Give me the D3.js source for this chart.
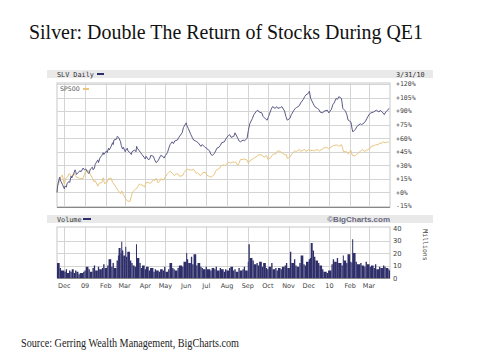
<!DOCTYPE html>
<html><head><meta charset="utf-8">
<script src="https://cdn.jsdelivr.net/npm/d3@7"></script>
<style>body{margin:0;background:#fff}</style></head>
<body><svg id="c" width="480" height="360"></svg>
<script>
const slv = [["2008-11-20",0],["2008-11-21",8],["2008-11-24",17],["2008-11-25",14],["2008-11-26",12],["2008-11-28",9],["2008-12-01",4],["2008-12-02",7],["2008-12-04",6],["2008-12-05",10],["2008-12-08",12],["2008-12-09",11],["2008-12-11",18],["2008-12-12",16],["2008-12-15",21],["2008-12-17",25],["2008-12-18",23],["2008-12-19",20],["2008-12-22",22],["2008-12-24",24],["2008-12-26",23],["2008-12-29",27],["2008-12-31",25],["2009-01-02",26],["2009-01-05",22],["2009-01-07",21],["2009-01-08",24],["2009-01-09",26],["2009-01-12",28],["2009-01-13",25],["2009-01-15",27],["2009-01-16",31],["2009-01-20",36],["2009-01-21",33],["2009-01-23",38],["2009-01-26",41],["2009-01-28",44],["2009-01-29",42],["2009-02-02",46],["2009-02-03",44],["2009-02-05",49],["2009-02-06",47],["2009-02-09",51],["2009-02-11",55],["2009-02-12",53],["2009-02-13",58],["2009-02-17",59],["2009-02-18",62],["2009-02-20",61],["2009-02-23",56],["2009-02-24",52],["2009-02-26",48],["2009-02-27",50],["2009-03-02",45],["2009-03-03",47],["2009-03-05",49],["2009-03-06",46],["2009-03-09",44],["2009-03-11",42],["2009-03-12",45],["2009-03-16",47],["2009-03-18",45],["2009-03-19",51],["2009-03-20",49],["2009-03-23",46],["2009-03-25",44],["2009-03-27",42],["2009-03-30",39],["2009-04-01",37],["2009-04-02",40],["2009-04-06",36],["2009-04-08",38],["2009-04-09",41],["2009-04-13",40],["2009-04-15",36],["2009-04-17",33],["2009-04-20",35],["2009-04-22",38],["2009-04-24",41],["2009-04-27",40],["2009-04-29",38],["2009-05-01",41],["2009-05-04",44],["2009-05-06",49],["2009-05-08",53],["2009-05-11",56],["2009-05-13",54],["2009-05-15",57],["2009-05-19",58],["2009-05-21",61],["2009-05-26",66],["2009-05-28",72],["2009-06-01",77],["2009-06-02",74],["2009-06-04",71],["2009-06-08",64],["2009-06-10",61],["2009-06-12",58],["2009-06-15",57],["2009-06-17",56],["2009-06-19",55],["2009-06-23",51],["2009-06-25",53],["2009-06-29",50],["2009-07-01",49],["2009-07-06",46],["2009-07-08",42],["2009-07-10",41],["2009-07-13",43],["2009-07-15",46],["2009-07-17",49],["2009-07-20",50],["2009-07-22",52],["2009-07-24",55],["2009-07-28",56],["2009-07-30",59],["2009-08-03",63],["2009-08-05",64],["2009-08-07",61],["2009-08-11",62],["2009-08-13",66],["2009-08-17",60],["2009-08-19",57],["2009-08-21",56],["2009-08-25",58],["2009-08-27",57],["2009-08-31",60],["2009-09-02",69],["2009-09-04",76],["2009-09-08",82],["2009-09-10",86],["2009-09-14",90],["2009-09-16",91],["2009-09-18",89],["2009-09-22",88],["2009-09-24",84],["2009-09-28",81],["2009-09-30",80],["2009-10-02",84],["2009-10-06",92],["2009-10-08",95],["2009-10-12",93],["2009-10-14",95],["2009-10-16",93],["2009-10-20",94],["2009-10-22",95],["2009-10-26",90],["2009-10-28",84],["2009-10-30",80],["2009-11-03",82],["2009-11-05",86],["2009-11-09",91],["2009-11-11",93],["2009-11-13",94],["2009-11-17",96],["2009-11-19",99],["2009-11-23",103],["2009-11-25",106],["2009-11-27",108],["2009-12-01",110],["2009-12-02",112],["2009-12-04",104],["2009-12-08",98],["2009-12-10",95],["2009-12-14",93],["2009-12-16",92],["2009-12-18",89],["2009-12-22",88],["2009-12-24",90],["2009-12-29",91],["2009-12-31",88],["2010-01-04",92],["2010-01-06",97],["2010-01-08",99],["2010-01-11",104],["2010-01-13",103],["2010-01-15",106],["2010-01-19",104],["2010-01-21",93],["2010-01-25",90],["2010-01-27",86],["2010-01-29",80],["2010-02-02",78],["2010-02-04",70],["2010-02-05",67],["2010-02-09",70],["2010-02-11",73],["2010-02-16",76],["2010-02-18",75],["2010-02-22",77],["2010-02-24",79],["2010-02-26",82],["2010-03-02",87],["2010-03-04",88],["2010-03-08",89],["2010-03-10",90],["2010-03-12",91],["2010-03-16",89],["2010-03-18",91],["2010-03-22",88],["2010-03-24",86],["2010-03-26",89],["2010-03-29",91],["2010-03-31",93]];

const sp500 = [["2008-11-20",0],["2008-11-21",6.3],["2008-11-24",13.2],["2008-11-26",17.9],["2008-11-28",19.1],["2008-12-01",8.5],["2008-12-03",15.6],["2008-12-05",16.4],["2008-12-08",20.8],["2008-12-10",19.5],["2008-12-12",17],["2008-12-16",21.3],["2008-12-18",17.6],["2008-12-22",15.8],["2008-12-24",15.5],["2008-12-29",15.5],["2008-12-31",20],["2009-01-02",23.8],["2009-01-06",24.2],["2009-01-08",21],["2009-01-12",15.7],["2009-01-14",12],["2009-01-16",13],["2009-01-20",7],["2009-01-22",10],["2009-01-26",11.1],["2009-01-28",16.2],["2009-01-30",9.8],["2009-02-03",11.4],["2009-02-05",15.4],["2009-02-09",15.7],["2009-02-11",10.8],["2009-02-13",9.5],["2009-02-17",4.9],["2009-02-19",2.3],["2009-02-23",-1.3],["2009-02-25",1.6],["2009-02-27",-2.3],["2009-03-03",-7.5],["2009-03-05",-9.4],["2009-03-09",-10],["2009-03-11",-4.2],["2009-03-13",0.6],["2009-03-17",3.4],["2009-03-19",4.3],["2009-03-23",9.4],["2009-03-25",8.2],["2009-03-27",8.4],["2009-03-31",6],["2009-04-02",11],["2009-04-06",11],["2009-04-08",9.8],["2009-04-13",14],["2009-04-15",13.2],["2009-04-17",15.6],["2009-04-20",10.6],["2009-04-22",12],["2009-04-24",15.1],["2009-04-28",13.6],["2009-04-30",16],["2009-05-04",20.6],["2009-05-06",22.1],["2009-05-08",23.5],["2009-05-12",20.7],["2009-05-14",18.7],["2009-05-18",20.8],["2009-05-20",20.1],["2009-05-22",17.9],["2009-05-27",18.7],["2009-05-29",22.2],["2009-06-02",25.6],["2009-06-04",25.3],["2009-06-08",24.9],["2009-06-10",24.9],["2009-06-12",25.7],["2009-06-16",21.2],["2009-06-18",22],["2009-06-22",18.7],["2009-06-24",19.7],["2009-06-26",22],["2009-06-30",22.2],["2009-07-02",19.1],["2009-07-07",17.1],["2009-07-09",17.2],["2009-07-13",19.8],["2009-07-15",23.8],["2009-07-17",25],["2009-07-21",26.8],["2009-07-23",29.7],["2009-07-27",30.5],["2009-07-29",29.6],["2009-07-31",31.1],["2009-08-04",33.7],["2009-08-06",32.5],["2009-08-10",33.8],["2009-08-12",33.5],["2009-08-14",33.5],["2009-08-17",30.1],["2009-08-19",32.4],["2009-08-21",36.3],["2009-08-25",36.7],["2009-08-27",37],["2009-08-31",35.7],["2009-09-02",32.2],["2009-09-04",35],["2009-09-09",37.3],["2009-09-11",38.5],["2009-09-15",39.9],["2009-09-17",41.6],["2009-09-21",41.4],["2009-09-23",41],["2009-09-25",38.8],["2009-09-29",40.9],["2009-10-01",36.7],["2009-10-05",38.3],["2009-10-07",40.6],["2009-10-09",42.5],["2009-10-13",42.6],["2009-10-15",45.7],["2009-10-19",45.9],["2009-10-21",43.7],["2009-10-23",43.5],["2009-10-27",41.4],["2009-10-29",41.7],["2009-10-30",37.7],["2009-11-03",39],["2009-11-05",41.7],["2009-11-09",45.3],["2009-11-11",46],["2009-11-13",45.4],["2009-11-17",47.6],["2009-11-19",45.4],["2009-11-23",47],["2009-11-25",47.5],["2009-11-27",45.2],["2009-12-01",47.4],["2009-12-03",46.2],["2009-12-07",46.7],["2009-12-09",45.7],["2009-12-11",47],["2009-12-15",47.2],["2009-12-17",45.8],["2009-12-21",48],["2009-12-23",49],["2009-12-28",49.9],["2009-12-31",48.2],["2010-01-05",51],["2010-01-07",51.8],["2010-01-11",52.4],["2010-01-13",52.3],["2010-01-15",51],["2010-01-19",52.9],["2010-01-21",48.3],["2010-01-22",45],["2010-01-26",45.1],["2010-01-28",44],["2010-01-29",42.7],["2010-02-02",46.7],["2010-02-04",41.3],["2010-02-08",40.4],["2010-02-10",41.9],["2010-02-12",42.9],["2010-02-17",46.1],["2010-02-19",47.4],["2010-02-23",45.4],["2010-02-25",46.5],["2010-03-01",48.2],["2010-03-03",48.7],["2010-03-05",51.4],["2010-03-09",51.6],["2010-03-11",52.8],["2010-03-15",52.8],["2010-03-17",54.9],["2010-03-19",54.2],["2010-03-23",56.1],["2010-03-25",54.9],["2010-03-29",56],["2010-03-31",55.4]];

const volume = [["2008-11-20",12],["2008-11-24",8],["2008-11-26",6],["2008-12-01",5],["2008-12-03",7],["2008-12-05",4],["2008-12-08",6],["2008-12-10",5],["2008-12-12",7],["2008-12-15",4],["2008-12-17",6],["2008-12-19",5],["2008-12-22",3],["2008-12-24",4],["2008-12-29",5],["2008-12-31",6],["2009-01-02",9],["2009-01-06",7],["2009-01-08",5],["2009-01-12",8],["2009-01-14",10],["2009-01-16",6],["2009-01-20",9],["2009-01-22",7],["2009-01-26",8],["2009-01-28",11],["2009-01-30",8],["2009-02-03",10],["2009-02-05",15],["2009-02-09",9],["2009-02-11",12],["2009-02-13",8],["2009-02-17",14],["2009-02-19",18],["2009-02-20",24],["2009-02-23",20],["2009-02-24",29],["2009-02-25",22],["2009-02-27",18],["2009-03-02",25],["2009-03-03",17],["2009-03-05",21],["2009-03-09",14],["2009-03-11",12],["2009-03-13",10],["2009-03-16",9],["2009-03-18",27],["2009-03-19",16],["2009-03-23",12],["2009-03-25",8],["2009-03-27",10],["2009-03-31",7],["2009-04-02",9],["2009-04-06",6],["2009-04-08",8],["2009-04-13",5],["2009-04-15",7],["2009-04-17",6],["2009-04-21",5],["2009-04-23",7],["2009-04-27",6],["2009-04-29",9],["2009-05-01",5],["2009-05-05",7],["2009-05-07",12],["2009-05-11",8],["2009-05-13",7],["2009-05-15",6],["2009-05-19",8],["2009-05-21",10],["2009-05-26",9],["2009-05-28",13],["2009-06-01",20],["2009-06-02",15],["2009-06-04",12],["2009-06-08",17],["2009-06-10",11],["2009-06-12",19],["2009-06-16",10],["2009-06-18",12],["2009-06-22",9],["2009-06-24",8],["2009-06-26",7],["2009-06-30",9],["2009-07-02",7],["2009-07-07",6],["2009-07-09",8],["2009-07-13",7],["2009-07-15",9],["2009-07-17",6],["2009-07-21",8],["2009-07-23",7],["2009-07-27",5],["2009-07-29",7],["2009-07-31",6],["2009-08-04",8],["2009-08-06",9],["2009-08-10",6],["2009-08-12",7],["2009-08-14",5],["2009-08-18",8],["2009-08-20",6],["2009-08-24",7],["2009-08-26",9],["2009-08-28",6],["2009-09-01",13],["2009-09-02",27],["2009-09-04",16],["2009-09-08",14],["2009-09-10",11],["2009-09-14",12],["2009-09-16",10],["2009-09-18",13],["2009-09-22",9],["2009-09-24",12],["2009-09-28",8],["2009-09-30",7],["2009-10-02",9],["2009-10-06",12],["2009-10-08",7],["2009-10-12",8],["2009-10-14",6],["2009-10-16",8],["2009-10-20",7],["2009-10-22",9],["2009-10-26",10],["2009-10-28",12],["2009-10-30",8],["2009-11-03",21],["2009-11-05",12],["2009-11-09",15],["2009-11-11",10],["2009-11-13",9],["2009-11-17",12],["2009-11-19",18],["2009-11-23",11],["2009-11-25",10],["2009-11-27",13],["2009-12-01",15],["2009-12-03",16],["2009-12-04",28],["2009-12-07",22],["2009-12-09",17],["2009-12-11",14],["2009-12-15",12],["2009-12-17",10],["2009-12-21",7],["2009-12-23",5],["2009-12-28",4],["2009-12-30",6],["2010-01-04",11],["2010-01-06",15],["2010-01-08",13],["2010-01-12",16],["2010-01-14",12],["2010-01-19",10],["2010-01-21",18],["2010-01-22",14],["2010-01-26",12],["2010-01-28",19],["2010-02-01",13],["2010-02-03",12],["2010-02-04",31],["2010-02-05",20],["2010-02-09",13],["2010-02-11",11],["2010-02-16",12],["2010-02-18",10],["2010-02-22",9],["2010-02-24",13],["2010-02-26",11],["2010-03-02",9],["2010-03-04",10],["2010-03-08",8],["2010-03-10",11],["2010-03-12",7],["2010-03-16",9],["2010-03-18",8],["2010-03-22",10],["2010-03-24",9],["2010-03-26",8],["2010-03-30",7],["2010-03-31",6]];

const priceTicks = [120,105,90,75,60,45,30,15,0,-15];
const volTicks = [0,10,20,30,40];
const monthStarts = ["2008-12-01","2009-01-01","2009-02-01","2009-03-01","2009-04-01","2009-05-01","2009-06-01","2009-07-01","2009-08-01","2009-09-01","2009-10-01","2009-11-01","2009-12-01","2010-01-01","2010-02-01","2010-03-01"];
const monthLabels = ["Dec","09","Feb","Mar","Apr","May","Jun","Jul","Aug","Sep","Oct","Nov","Dec","10","Feb","Mar"];
const dateRange = ["2008-11-20","2010-03-31"];
const title = "Silver: Double The Return of Stocks During QE1";
const source = "Source: Gerring Wealth Management, BigCharts.com";

const parse = d3.timeParse("%Y-%m-%d");
const svg = d3.select("#c");
svg.append("rect").attr("width",480).attr("height",360).attr("fill","#fff");

const L = 57, R = 390;
const x = d3.scaleTime().domain(dateRange.map(parse)).range([L, R-1]);
const yP = d3.scaleLinear().domain([-15,120]).range([206,84]);
const yV = d3.scaleLinear().domain([0,40]).range([278,228]);

const monoFont = "'DejaVu Sans Mono', monospace";
const sansFont = "'DejaVu Sans', sans-serif";
const grid = "#d4d4d4";
const navy = "#5a5a88";
const gold = "#e8c680";
const barNavy = "#2e2e6a";

// title
svg.append("text").attr("x",29).attr("y",39).text(title)
  .attr("font-family","'Liberation Serif', serif").attr("font-size",21).attr("fill","#111")
  .attr("textLength",394).attr("lengthAdjust","spacingAndGlyphs");

// header bars
function header(y){ svg.append("rect").attr("x",47).attr("y",y).attr("width",386).attr("height",8).attr("fill","#e9e9e9"); }
header(70); header(215);
svg.append("text").attr("x",57).attr("y",76.5).text("SLV Daily").attr("font-family",monoFont).attr("font-size",6.8).attr("fill","#333");
svg.append("line").attr("x1",97).attr("x2",104).attr("y1",74).attr("y2",74).attr("stroke",barNavy).attr("stroke-width",2);
svg.append("text").attr("x",396).attr("y",76.5).text("3/31/10").attr("font-family",monoFont).attr("font-size",6.8).attr("fill","#333");
svg.append("text").attr("x",57).attr("y",221.5).text("Volume").attr("font-family",monoFont).attr("font-size",6.8).attr("fill","#333");
svg.append("line").attr("x1",83).attr("x2",91).attr("y1",219).attr("y2",219).attr("stroke",barNavy).attr("stroke-width",2);
svg.append("text").attr("x",390).attr("y",221.8).attr("text-anchor","end").text("\u00A9BigCharts.com")
  .attr("font-family","'Liberation Sans', Arial, sans-serif").attr("font-weight","bold").attr("font-size",8).attr("fill","#6a6a80");

// price pane
const gP = svg.append("g");
gP.append("rect").attr("x",L).attr("y",83).attr("width",R-L).attr("height",124).attr("fill","#fff").attr("stroke","#c8c8c8");
monthStarts.forEach(m=>{ gP.append("line").attr("x1",Math.round(x(parse(m)))+0.5).attr("x2",Math.round(x(parse(m)))+0.5).attr("y1",83).attr("y2",207).attr("stroke",grid); });
priceTicks.forEach(t=>{ const yy=Math.round(yP(t))+0.5; gP.append("line").attr("x1",L).attr("x2",R).attr("y1",yy).attr("y2",yy).attr("stroke",grid);
  gP.append("text").attr("x",396).attr("y",yP(t)+2.3).text((t>=0?"+":"")+t+"%").attr("font-family",monoFont).attr("font-size",6.5).attr("fill","#444"); });
gP.append("line").attr("x1",L).attr("x2",R).attr("y1",207.5).attr("y2",207.5).attr("stroke","#888");

const line = d3.line().x(d=>x(parse(d[0]))).y(d=>yP(d[1]));
gP.append("path").datum(sp500).attr("d",line).attr("fill","none").attr("stroke",gold).attr("stroke-width",1);
gP.append("path").datum(slv).attr("d",line).attr("fill","none").attr("stroke",navy).attr("stroke-width",1);

gP.append("text").attr("x",60).attr("y",91.3).text("SP500").attr("font-family",sansFont).attr("font-size",6.3).attr("fill","#555");
gP.append("line").attr("x1",83).attr("x2",89).attr("y1",89).attr("y2",89).attr("stroke",gold).attr("stroke-width",2);

// volume pane
const gV = svg.append("g");
gV.append("rect").attr("x",L).attr("y",227).attr("width",R-L).attr("height",51).attr("fill","#fff").attr("stroke","#c8c8c8");
monthStarts.forEach(m=>{ gV.append("line").attr("x1",Math.round(x(parse(m)))+0.5).attr("x2",Math.round(x(parse(m)))+0.5).attr("y1",227).attr("y2",278).attr("stroke",grid); });
volTicks.forEach(t=>{ const yy=Math.round(yV(t))+0.5; if(t>0&&t<40) gV.append("line").attr("x1",L).attr("x2",R).attr("y1",yy).attr("y2",yy).attr("stroke",grid);
  gV.append("text").attr("x",393).attr("y",yV(t)+2.5).text(t).attr("font-family",sansFont).attr("font-size",6.8).attr("fill","#444"); });
gV.selectAll("rect.v").data(volume).enter().append("rect").attr("class","v")
  .attr("x",(d)=>x(parse(d[0])))
  .attr("width",(d,i)=> i<volume.length-1 ? Math.max(1, x(parse(volume[i+1][0]))-x(parse(d[0]))) : 1)
  .attr("y",d=>yV(d[1])).attr("height",d=>yV(0)-yV(d[1])).attr("fill",barNavy);
gV.append("line").attr("x1",L).attr("x2",R).attr("y1",278.5).attr("y2",278.5).attr("stroke","#888");
svg.append("text").attr("transform","translate(423,245) rotate(90)").attr("text-anchor","middle").text("Millions")
  .attr("font-family",monoFont).attr("font-size",6.5).attr("fill","#444");

// x labels
monthStarts.forEach((m,i)=>{ svg.append("text").attr("x",x(parse(m))).attr("y",287.5).attr("text-anchor","middle").text(monthLabels[i])
  .attr("font-family",sansFont).attr("font-size",6.5).attr("fill","#444"); });

// source
svg.append("text").attr("x",21).attr("y",347).text(source).attr("font-family","'Liberation Serif', serif").attr("font-size",11.5).attr("fill","#222")
  .attr("textLength",218).attr("lengthAdjust","spacingAndGlyphs");
</script></body></html>
